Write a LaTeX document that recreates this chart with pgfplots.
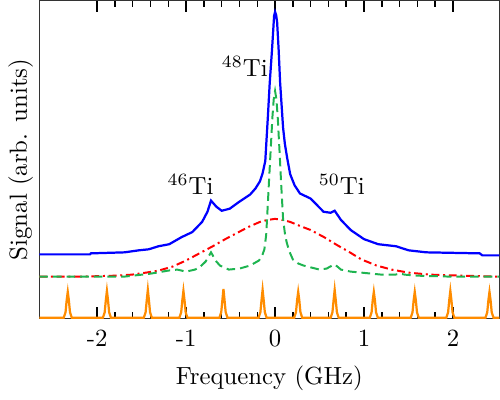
\documentclass[border=0pt]{standalone}
\usepackage{pgfplots}
\pgfplotsset{compat=1.18}
\definecolor{cblue}{RGB}{0,0,255}
\definecolor{cgreen}{RGB}{30,180,80}
\definecolor{cred}{RGB}{255,0,0}
\definecolor{corange}{RGB}{255,140,0}
\begin{document}
\begin{tikzpicture}
\begin{axis}[
  scale only axis,
  width=185.7pt, height=128.2pt,
  xmin=-2.65, xmax=2.52,
  ymin=0, ymax=313,
  ytick=\empty,
  xtick={-2,-1,0,1,2},
  xticklabels={-2,-1,0,1,2},
  minor x tick num=4,
  tick align=inside,
  xtick pos=both,
  major tick length=4.4pt,
  minor tick length=2.4pt,
  tick style={black, line width=0.6pt},
  ticklabel style={font=\normalsize},
  xticklabel style={yshift=-1pt},
  axis line style={black!80, line width=0.6pt},
  xlabel={Frequency (GHz)},
  ylabel={Signal (arb. units)},
  xlabel style={yshift=-1pt},
  ylabel style={yshift=-1pt},
  clip=true,
]
% blue: measured signal
\addplot[cblue, line width=0.9pt] coordinates {
(-2.65,63) (-2.08,63) (-2.07,64) (-1.69,65) (-1.53,67) (-1.42,68) (-1.31,71) (-1.19,73)
(-1.05,80) (-0.93,85) (-0.82,95) (-0.76,105) (-0.72,116) (-0.69,113) (-0.66,110) (-0.60,106)
(-0.51,108) (-0.40,115) (-0.28,122) (-0.22,128) (-0.17,135) (-0.14,143) (-0.11,155) (-0.10,170)
(-0.08,200) (-0.06,232) (-0.034,265) (-0.02,285) (-0.011,298) (0,302) (0.012,299) (0.023,292)
(0.04,265) (0.057,232) (0.075,208) (0.09,188) (0.11,172) (0.136,158) (0.17,142) (0.22,131)
(0.28,123) (0.40,118) (0.545,105) (0.625,104) (0.67,106) (0.74,97) (0.85,87) (1.0,78)
(1.16,73) (1.36,71) (1.5,67) (1.70,65) (2.30,64) (2.33,62) (2.52,62)
};
% red: broad background
\addplot[cred, line width=0.8pt, dash pattern=on 3.2pt off 1.5pt on 0.8pt off 1.5pt] coordinates {
(-2.65,41) (-2.2,41) (-1.8,42) (-1.61,43) (-1.45,45) (-1.31,47) (-1.15,51) (-1.0,57)
(-0.85,64) (-0.70,71) (-0.56,78) (-0.43,84) (-0.30,90) (-0.17,95) (-0.08,97) (0,98)
(0.08,97) (0.17,95) (0.28,91) (0.40,87) (0.55,80) (0.70,72) (0.84,65) (0.97,58)
(1.14,52) (1.31,48) (1.5,45) (1.75,43) (2.1,42) (2.52,41)
};
% green: fitted components
\addplot[cgreen, line width=0.8pt, dash pattern=on 3.5pt off 2pt] coordinates {
(-2.65,41) (-1.7,41) (-1.4,44) (-1.2,47) (-1.1,48) (-1.0,46) (-0.9,48) (-0.85,50)
(-0.78,56) (-0.74,62) (-0.72,65) (-0.70,62) (-0.68,58) (-0.62,52) (-0.52,48) (-0.40,49)
(-0.28,52) (-0.18,57) (-0.14,63) (-0.12,68) (-0.10,82) (-0.09,98) (-0.07,132) (-0.05,165)
(-0.03,198) (-0.015,216) (0,224) (0.015,216) (0.03,198) (0.05,165) (0.07,130) (0.09,98)
(0.11,84) (0.13,75) (0.16,66) (0.2,58) (0.26,54) (0.32,52) (0.5,48) (0.58,49) (0.62,51)
(0.67,53) (0.70,51) (0.74,48) (0.85,46) (0.97,45) (1.2,43) (1.35,43) (1.4,44) (1.46,43)
(1.6,42) (2.0,41) (2.52,41)
};
% orange: frequency markers
\addplot[corange, line width=0.9pt] coordinates {
(-2.65,0.6)
(-2.375,0.6) (-2.355,6) (-2.342,18) (-2.33,26) (-2.318,18) (-2.305,6) (-2.285,0.6)
(-1.935,0.6) (-1.915,6) (-1.902,18) (-1.89,27) (-1.878,18) (-1.865,6) (-1.845,0.6)
(-1.475,0.6) (-1.455,6) (-1.442,18) (-1.43,28) (-1.418,18) (-1.405,6) (-1.385,0.6)
(-1.075,0.6) (-1.055,6) (-1.042,18) (-1.03,27) (-1.018,18) (-1.005,6) (-0.985,0.6)
(-0.625,0.6) (-0.605,6) (-0.592,18) (-0.58,29) (-0.568,18) (-0.555,6) (-0.535,0.6)
(-0.185,0.6) (-0.165,6) (-0.152,18) (-0.14,28) (-0.128,18) (-0.115,6) (-0.095,0.6)
(0.215,0.6) (0.235,6) (0.248,18) (0.26,26) (0.272,18) (0.285,6) (0.305,0.6)
(0.625,0.6) (0.645,6) (0.658,18) (0.67,28) (0.682,18) (0.695,6) (0.715,0.6)
(1.065,0.6) (1.085,6) (1.098,18) (1.11,26) (1.122,18) (1.135,6) (1.155,0.6)
(1.525,0.6) (1.545,6) (1.558,18) (1.57,26) (1.582,18) (1.595,6) (1.615,0.6)
(1.925,0.6) (1.945,6) (1.958,18) (1.97,27) (1.982,18) (1.995,6) (2.015,0.6)
(2.365,0.6) (2.385,6) (2.398,18) (2.41,26) (2.422,18) (2.435,6) (2.455,0.6)
(2.52,0.6)
};
\node at (axis cs:-0.34,248) {$^{48}$Ti};
\node at (axis cs:-0.95,132) {$^{46}$Ti};
\node at (axis cs:0.75,132) {$^{50}$Ti};
\end{axis}
\end{tikzpicture}
\end{document}
